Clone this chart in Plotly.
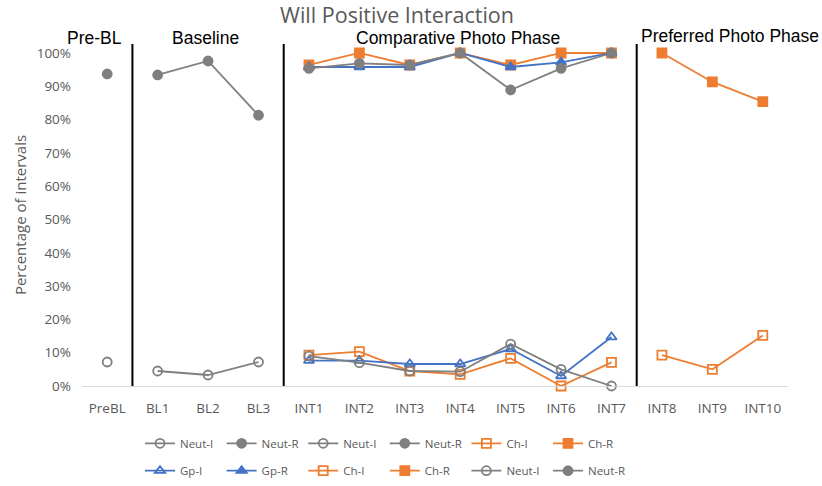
import plotly.graph_objects as go

categories = ["PreBL", "BL1", "BL2", "BL3", "INT1", "INT2", "INT3", "INT4",
              "INT5", "INT6", "INT7", "INT8", "INT9", "INT10"]
prebl_cats = ["PreBL"]
bl_cats = ["BL1", "BL2", "BL3"]
comp_cats = ["INT1", "INT2", "INT3", "INT4", "INT5", "INT6", "INT7"]
pref_cats = ["INT8", "INT9", "INT10"]

prebl_neut_i = [0.072]
prebl_neut_r = [0.937]
bl_neut_i = [0.045, 0.033, 0.072]
bl_neut_r = [0.934, 0.976, 0.813]
comp_ch_i = [0.093, 0.103, 0.045, 0.035, 0.083, 0.0, 0.071]
comp_ch_r = [0.964, 1.0, 0.964, 1.0, 0.964, 1.0, 1.0]
comp_gp_i = [0.076, 0.076, 0.066, 0.066, 0.111, 0.030, 0.147]
comp_gp_r = [0.958, 0.958, 0.958, 1.0, 0.958, 0.972, 1.0]
pref_ch_i = [0.093, 0.050, 0.152]
pref_ch_r = [1.0, 0.913, 0.854]
comp_neut_i = [0.090, 0.070, 0.045, 0.043, 0.126, 0.050, 0.0]
comp_neut_r = [0.954, 0.969, 0.964, 1.0, 0.889, 0.954, 1.0]

GRAY = "#7f7f7f"
ORANGE = "#ED7D31"
BLUE = "#4472C4"
TXT = "#595959"
FONT = "Open Sans"

series = [
    ("Neut-I", prebl_cats, prebl_neut_i, GRAY, "circle-open", "legend"),
    ("Neut-R", prebl_cats, prebl_neut_r, GRAY, "circle", "legend"),
    ("Neut-I", bl_cats, bl_neut_i, GRAY, "circle-open", "legend"),
    ("Neut-R", bl_cats, bl_neut_r, GRAY, "circle", "legend"),
    ("Ch-I", comp_cats, comp_ch_i, ORANGE, "square-open", "legend"),
    ("Ch-R", comp_cats, comp_ch_r, ORANGE, "square", "legend"),
    ("Gp-I", comp_cats, comp_gp_i, BLUE, "triangle-up-open", "legend2"),
    ("Gp-R", comp_cats, comp_gp_r, BLUE, "triangle-up", "legend2"),
    ("Ch-I", pref_cats, pref_ch_i, ORANGE, "square-open", "legend2"),
    ("Ch-R", pref_cats, pref_ch_r, ORANGE, "square", "legend2"),
    ("Neut-I", comp_cats, comp_neut_i, GRAY, "circle-open", "legend2"),
    ("Neut-R", comp_cats, comp_neut_r, GRAY, "circle", "legend2"),
]

fig = go.Figure()
for name, xs, ys, col, sym, leg in series:
    fig.add_trace(go.Scatter(
        x=xs, y=ys, name=name, mode="lines+markers",
        line=dict(color=col, width=1.8),
        marker=dict(symbol=sym, size=9, color=col, line=dict(color=col, width=1.8)),
        legend=leg, cliponaxis=False,
    ))

for xv in [0.5, 3.5, 10.5]:
    fig.add_shape(type="line", xref="x", yref="y", x0=xv, x1=xv, y0=0, y1=1.027,
                  line=dict(color="black", width=2))

labels = [("Pre-BL", -0.25, 38), ("Baseline", 1.94, 38),
          ("Comparative Photo Phase", 6.95, 38), ("Preferred Photo Phase", 12.35, 36)]
for txt, xv, ypx in labels:
    fig.add_annotation(x=xv, xref="x", y=(386 - ypx) / 342, yref="paper",
                       text=txt, showarrow=False,
                       font=dict(family="Liberation Sans, Arial", size=17.5, color="black"),
                       xanchor="center", yanchor="middle")

legend_common = dict(orientation="h", x=(140 - 82) / 706, xanchor="left",
                     yanchor="middle", entrywidth=36.6, itemwidth=30,
                     font=dict(family=FONT, size=11.5, color=TXT),
                     bgcolor="rgba(0,0,0,0)")

fig.update_layout(
    width=822, height=486,
    margin=dict(l=82, r=34, t=44, b=100, autoexpand=False),
    paper_bgcolor="white", plot_bgcolor="white",
    title=dict(text="Will Positive Interaction", x=0.483, xanchor="center",
               y=1 - 15 / 486, yanchor="middle",
               font=dict(family=FONT, size=21.5, color=TXT)),
    font=dict(family=FONT, size=12, color=TXT),
    xaxis=dict(type="category", categoryorder="array", categoryarray=categories,
               range=[-0.5, 13.5], showgrid=False, showline=True,
               linecolor="#d9d9d9", linewidth=1, ticks="", ticklabelstandoff=10,
               tickfont=dict(family=FONT, size=13.5, color=TXT)),
    yaxis=dict(range=[0, 1.027], tickvals=[i / 10 for i in range(11)],
               ticktext=[f"{i*10}%" for i in range(11)],
               showgrid=False, zeroline=False, showline=False, ticklabelstandoff=10,
               tickfont=dict(family=FONT, size=13.5, color=TXT),
               title=dict(text="Percentage of intervals",
                          font=dict(family=FONT, size=15, color=TXT), standoff=6)),
    legend=dict(y=(386 - 443.3) / 342, **legend_common),
    legend2=dict(y=(386 - 470.7) / 342, **legend_common),
)

fig.write_html("out.html")
